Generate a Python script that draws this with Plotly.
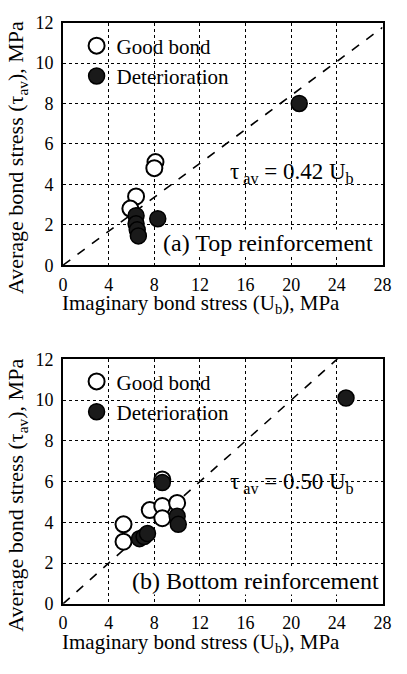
import plotly.graph_objects as go

# ---- data ----
top_good_x = [8.1, 8.0, 6.4, 5.9]
top_good_y = [5.1, 4.8, 3.4, 2.8]
top_det_x = [20.7, 6.4, 6.4, 6.5, 6.6, 8.3]
top_det_y = [8.0, 2.45, 2.05, 1.75, 1.45, 2.3]

bot_good_x = [8.7, 5.3, 5.3, 7.6, 8.7, 10.0, 8.7]
bot_good_y = [6.1, 3.9, 3.05, 4.6, 4.8, 4.95, 4.2]
bot_det_x = [24.8, 8.7, 6.7, 7.1, 7.4, 10.0, 10.1]
bot_det_y = [10.1, 5.95, 3.2, 3.3, 3.45, 4.3, 3.9]

top_slope = 0.42
bot_slope = 0.50
line_x = [0, 28]

x_ticks = [0, 4, 8, 12, 16, 20, 24, 28]
y_ticks = [0, 2, 4, 6, 8, 10, 12]

FONT = "Liberation Serif"
MS = 16

fig = go.Figure()

def add_panel(gx, gy, dx, dy, slope, xa, ya, legend, tag):
    fig.add_trace(go.Scatter(x=line_x, y=[slope * v for v in line_x], mode="lines",
                             line=dict(color="black", width=1.6, dash="dash"),
                             xaxis=xa, yaxis=ya, showlegend=False, hoverinfo="skip"))
    fig.add_trace(go.Scatter(x=gx, y=gy, mode="markers", name="Good bond",
                             marker=dict(size=MS, color="white", line=dict(color="black", width=2)),
                             xaxis=xa, yaxis=ya, legend=legend, legendgroup=tag + "g"))
    fig.add_trace(go.Scatter(x=dx, y=dy, mode="markers", name="Deterioration",
                             marker=dict(size=MS, color="#1a1a1a", line=dict(color="black", width=1.5)),
                             xaxis=xa, yaxis=ya, legend=legend, legendgroup=tag + "d"))

add_panel(top_good_x, top_good_y, top_det_x, top_det_y, top_slope, "x", "y", "legend", "a")
add_panel(bot_good_x, bot_good_y, bot_det_x, bot_det_y, bot_slope, "x2", "y2", "legend2", "b")

W, H = 407, 674
xd = [61 / W, 391 / W]
yd_top = [1 - 263 / H, 1 - 13 / H]
yd_bot = [1 - 612 / H, 1 - 360 / H]

base = dict(showline=True, linecolor="black", linewidth=2, mirror=True,
            ticks="", showgrid=True, gridcolor="black", gridwidth=1, griddash="dot",
            zeroline=False, tickfont=dict(family=FONT, size=18, color="black"))

xax = dict(range=[0, 28], tickmode="array", tickvals=x_ticks, ticklabelstandoff=2, **base)
yax = dict(range=[0, 12], tickmode="array", tickvals=y_ticks, ticklabelstandoff=4, **base)

# tick-only axes laid over each frame edge, their "outside" ticks pointing into the plot
def tick_x(over, side, pos):
    return dict(overlaying=over, anchor="free", position=pos, side=side, range=[0, 28],
                tickmode="array", tickvals=x_ticks, ticks="outside", ticklen=9, tickwidth=2,
                tickcolor="black", showticklabels=False, showline=False, showgrid=False,
                zeroline=False,
                minor=dict(dtick=2, tick0=0, ticks="outside", ticklen=5, tickwidth=2,
                           tickcolor="black", showgrid=False))

def tick_y(over, side, pos):
    return dict(overlaying=over, anchor="free", position=pos, side=side, range=[0, 12],
                tickmode="array", tickvals=y_ticks, ticks="outside", ticklen=9, tickwidth=2,
                tickcolor="black", showticklabels=False, showline=False, showgrid=False,
                zeroline=False,
                minor=dict(dtick=1, tick0=0, ticks="outside", ticklen=5, tickwidth=2,
                           tickcolor="black", showgrid=False))

leg = dict(xanchor="left", yanchor="top", bgcolor="rgba(0,0,0,0)",
           font=dict(family=FONT, size=21), itemwidth=30, tracegroupgap=0)

fig.update_layout(
    width=W, height=H, margin=dict(l=0, r=0, t=0, b=0),
    plot_bgcolor="rgba(0,0,0,0)", paper_bgcolor="white",
    font=dict(family=FONT, color="black"),
    xaxis=dict(domain=xd, anchor="y", **xax),
    yaxis=dict(domain=yd_top, anchor="x", **yax),
    xaxis2=dict(domain=xd, anchor="y2", **xax),
    yaxis2=dict(domain=yd_bot, anchor="x2", **yax),
    xaxis3=tick_x("x", "top", yd_top[0]),
    xaxis4=tick_x("x", "bottom", yd_top[1]),
    xaxis5=tick_x("x2", "top", yd_bot[0]),
    xaxis6=tick_x("x2", "bottom", yd_bot[1]),
    yaxis3=tick_y("y", "right", xd[0]),
    yaxis4=tick_y("y", "left", xd[1]),
    yaxis5=tick_y("y2", "right", xd[0]),
    yaxis6=tick_y("y2", "left", xd[1]),
    legend=dict(x=75 / W, y=1 - 16 / H, **leg),
    legend2=dict(x=75 / W, y=1 - 362 / H, **leg),
)

ann = []
def A(text, x, y, size, xanchor="center", yanchor="middle", angle=0, bg=None):
    d = dict(text=text, x=x / W, y=1 - y / H, xref="paper", yref="paper",
             showarrow=False, font=dict(family=FONT, size=size, color="black"),
             xanchor=xanchor, yanchor=yanchor, textangle=angle, borderpad=0)
    if bg:
        d["bgcolor"] = bg
    ann.append(d)

A("τ<sub> av</sub> = 0.42 U<sub>b</sub>", 297, 168, 23)
A("(a) Top reinforcement", 382, 240, 24, xanchor="right", bg="white")
A("τ<sub> av</sub> = 0.50 U<sub>b</sub>", 297, 487, 23)
A("(b) Bottom reinforcement", 388, 588, 24, xanchor="right", bg="white")
A("Imaginary bond stress (U<sub>b</sub>), MPa", 203, 303, 21)
A("Imaginary bond stress (U<sub>b</sub>), MPa", 203, 652, 21)
A("Average bond stress (τ<sub>av</sub>), MPa", 14, 152, 22, angle=-90)
A("Average bond stress (τ<sub>av</sub>), MPa", 14, 500, 22, angle=-90)
fig.update_layout(annotations=ann)

fig.write_html("out.html", config={"displayModeBar": False},
               post_script="document.body.style.margin='0';document.body.style.overflow='hidden';")
